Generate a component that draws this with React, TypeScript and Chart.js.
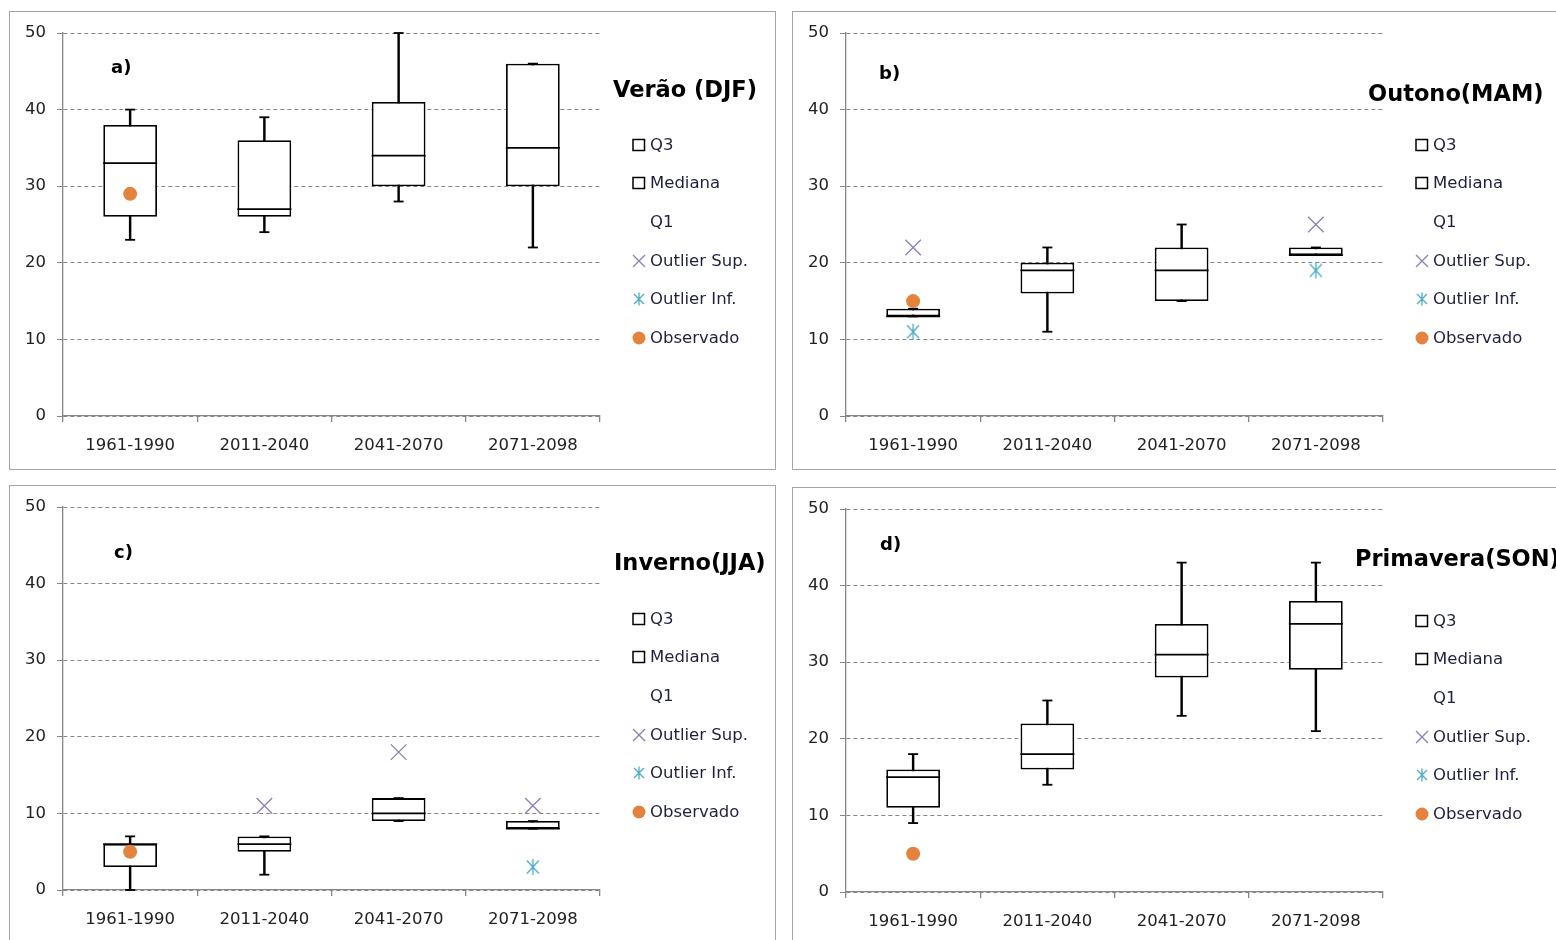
import React, { useEffect, useRef } from 'react';
import { Chart, registerables } from 'chart.js';
Chart.register(...registerables);

const categories = ['1961-1990', '2011-2040', '2041-2070', '2071-2098'];
const yTicks = [0, 10, 20, 30, 40, 50];
const legendLabels = ['Q3', 'Mediana', 'Q1', 'Outlier Sup.', 'Outlier Inf.', 'Observado'];

// a) Verão (DJF)
const djfMin = [23, 24, 28, 22];
const djfQ1 = [26, 26, 30, 30];
const djfMed = [33, 27, 34, 35];
const djfQ3 = [38, 36, 41, 46];
const djfMax = [40, 39, 50, 46];
const djfOutSup = [null, null, null, null];
const djfOutInf = [null, null, null, null];
const djfObs = [29, null, null, null];

// b) Outono (MAM)
const mamMin = [13, 11, 15, 21];
const mamQ1 = [13, 16, 15, 21];
const mamMed = [13, 19, 19, 21];
const mamQ3 = [14, 20, 22, 22];
const mamMax = [14, 22, 25, 22];
const mamOutSup = [22, null, null, 25];
const mamOutInf = [11, null, null, 19];
const mamObs = [15, null, null, null];

// c) Inverno (JJA)
const jjaMin = [0, 2, 9, 8];
const jjaQ1 = [3, 5, 9, 8];
const jjaMed = [6, 6, 10, 8];
const jjaQ3 = [6, 7, 12, 9];
const jjaMax = [7, 7, 12, 9];
const jjaOutSup = [null, 11, 18, 11];
const jjaOutInf = [null, null, null, 3];
const jjaObs = [5, null, null, null];

// d) Primavera (SON)
const sonMin = [9, 14, 23, 21];
const sonQ1 = [11, 16, 28, 29];
const sonMed = [15, 18, 31, 35];
const sonQ3 = [16, 22, 35, 38];
const sonMax = [18, 25, 43, 43];
const sonOutSup = [null, null, null, null];
const sonOutInf = [null, null, null, null];
const sonObs = [5, null, null, null];

const PURPLE = '#8e7cb8';
const TEAL = '#4bacc6';
const ORANGE = '#e3833e';
const GREY = '#868686';
const FONT = '"DejaVu Sans", sans-serif';
const LW = 1.8;

function makeAsterisk(color: string): HTMLCanvasElement {
  const c = document.createElement('canvas');
  c.width = 18;
  c.height = 18;
  const g = c.getContext('2d')!;
  g.strokeStyle = color;
  g.lineWidth = 1.3;
  g.beginPath();
  g.moveTo(9, 1);
  g.lineTo(9, 17);
  g.moveTo(3, 2.5);
  g.lineTo(15, 15.5);
  g.moveTo(15, 2.5);
  g.lineTo(3, 15.5);
  g.stroke();
  return c;
}

type Arr = (number | null)[];
interface PanelProps {
  left: number;
  top: number;
  min: Arr; q1: Arr; med: Arr; q3: Arr; max: Arr;
  outSup: Arr; outInf: Arr; obs: Arr;
  title: string; titleX: number; titleY: number;
  label: string; labelX: number; labelY: number;
}

const W = 767;
const H = 459;

function Marker({ kind }: { kind: number }) {
  if (kind === 0 || kind === 1) {
    return (
      <svg width={14} height={14} style={{ display: 'block' }}>
        <rect x={1} y={1.5} width={11.5} height={11} fill="#fff" stroke="#000" strokeWidth={1.5} />
      </svg>
    );
  }
  if (kind === 2) return <svg width={14} height={14} style={{ display: 'block' }} />;
  if (kind === 3) {
    return (
      <svg width={14} height={14} style={{ display: 'block' }}>
        <path d="M1 1 L13 13 M13 1 L1 13" stroke={PURPLE} strokeWidth={1.3} />
      </svg>
    );
  }
  if (kind === 4) {
    return (
      <svg width={14} height={14} style={{ display: 'block' }}>
        <path d="M7 0.5 L7 13.5 M2 2 L12 12 M12 2 L2 12" stroke={TEAL} strokeWidth={1.3} />
      </svg>
    );
  }
  return (
    <svg width={14} height={14} style={{ display: 'block' }}>
      <circle cx={7} cy={7} r={6.5} fill={ORANGE} />
    </svg>
  );
}

function Panel(p: PanelProps) {
  const ref = useRef<HTMLCanvasElement>(null);
  useEffect(() => {
    const canvas = ref.current!;
    const chart = new Chart(canvas, {
      type: 'bar',
      data: {
        labels: categories,
        datasets: [
          {
            type: 'bar', label: 'whisker',
            data: p.min.map((v, i) => [v as number, p.max[i] as number]),
            backgroundColor: '#000', borderWidth: 0, barThickness: LW,
            grouped: false, order: 6,
          } as any,
          {
            type: 'bar', label: 'box',
            data: p.q1.map((v, i) => [v as number, p.q3[i] as number]),
            backgroundColor: '#fff', borderColor: '#000', borderWidth: LW,
            borderSkipped: false, barPercentage: 0.4, categoryPercentage: 1,
            grouped: false, order: 5,
          } as any,
          {
            type: 'line', label: 'Mediana', data: p.med, showLine: false,
            pointStyle: 'line', pointRadius: 27, pointBorderColor: '#000',
            pointBorderWidth: LW, order: 4, clip: false,
          } as any,
          {
            type: 'line', label: 'max', data: p.max, showLine: false,
            pointStyle: 'line', pointRadius: 5, pointBorderColor: '#000',
            pointBorderWidth: LW, order: 3, clip: false,
          } as any,
          {
            type: 'line', label: 'min', data: p.min, showLine: false,
            pointStyle: 'line', pointRadius: 5, pointBorderColor: '#000',
            pointBorderWidth: LW, order: 3, clip: false,
          } as any,
          {
            type: 'line', label: 'Outlier Sup.', data: p.outSup, showLine: false,
            pointStyle: 'crossRot', pointRadius: 11, pointBorderColor: PURPLE,
            pointBorderWidth: 1.3, order: 2, clip: false,
          } as any,
          {
            type: 'line', label: 'Outlier Inf.', data: p.outInf, showLine: false,
            pointStyle: makeAsterisk(TEAL), pointRadius: 9, order: 1, clip: false,
          } as any,
          {
            type: 'line', label: 'Observado', data: p.obs, showLine: false,
            pointStyle: 'circle', pointRadius: 7, pointBackgroundColor: ORANGE,
            pointBorderColor: ORANGE, pointBorderWidth: 0, order: 0, clip: false,
          } as any,
        ],
      },
      options: {
        animation: false,
        responsive: false,
        maintainAspectRatio: false,
        layout: { autoPadding: false, padding: { left: 0, right: 176, top: 22, bottom: 0 } },
        plugins: { legend: { display: false }, tooltip: { enabled: false } },
        scales: {
          x: {
            type: 'category',
            offset: true,
            grid: {
              display: true, drawOnChartArea: false, drawTicks: true,
              tickLength: 6, color: GREY, lineWidth: 1.3, offset: true,
            },
            border: { display: true, color: GREY, width: 1.3 },
            ticks: {
              font: { family: FONT, size: 16.5 }, color: '#222',
              padding: 14, maxRotation: 0, autoSkip: false,
            },
            afterFit: (s: any) => { s.height = 54; },
          },
          y: {
            type: 'linear',
            min: yTicks[0],
            max: yTicks[yTicks.length - 1],
            afterBuildTicks: (s: any) => { s.ticks = yTicks.map((v) => ({ value: v })); },
            ticks: { font: { family: FONT, size: 16.5 }, color: '#222', padding: 11 },
            grid: { color: GREY, lineWidth: 1, tickLength: 6, drawTicks: true },
            border: { display: true, color: GREY, width: 1.3, dash: [4, 3] },
            afterFit: (s: any) => { s.width = 54; },
          },
        },
      } as any,
    });
    return () => chart.destroy();
  }, []);

  const rows = [133, 171, 210, 249, 287, 326];
  return (
    <div
      style={{
        position: 'fixed', left: p.left, top: p.top, width: W, height: H,
        boxSizing: 'border-box', border: '1.5px solid #a6a6a6', background: '#fff',
      }}
    >
      <canvas ref={ref} width={W} height={H} style={{ position: 'absolute', left: -1.5, top: -1.5 }} />
      <div
        style={{
          position: 'absolute', left: p.labelX, top: p.labelY, transform: 'translateY(-50%)',
          font: `bold 18px ${FONT}`, color: '#000', whiteSpace: 'nowrap',
        }}
      >
        {p.label}
      </div>
      <div
        style={{
          position: 'absolute', left: p.titleX, top: p.titleY, transform: 'translateY(-50%)',
          font: `bold 22.5px ${FONT}`, color: '#000', whiteSpace: 'nowrap',
        }}
      >
        {p.title}
      </div>
      {legendLabels.map((t, i) => (
        <div
          key={t}
          style={{
            position: 'absolute', left: 622, top: rows[i], transform: 'translateY(-50%)',
            display: 'flex', alignItems: 'center', whiteSpace: 'nowrap',
          }}
        >
          <div style={{ width: 14, marginRight: 4 }}>
            <Marker kind={i} />
          </div>
          <span style={{ font: `16.5px ${FONT}`, color: '#1f2040', lineHeight: '20px' }}>{t}</span>
        </div>
      ))}
    </div>
  );
}

export default function App() {
  useEffect(() => {
    document.body.style.overflow = 'hidden';
  }, []);
  return (
    <div>
      <Panel left={9} top={11} min={djfMin} q1={djfQ1} med={djfMed} q3={djfQ3} max={djfMax}
        outSup={djfOutSup} outInf={djfOutInf} obs={djfObs}
        title="Verão (DJF)" titleX={603} titleY={77} label="a)" labelX={101} labelY={54} />
      <Panel left={792} top={11} min={mamMin} q1={mamQ1} med={mamMed} q3={mamQ3} max={mamMax}
        outSup={mamOutSup} outInf={mamOutInf} obs={mamObs}
        title="Outono(MAM)" titleX={575} titleY={81} label="b)" labelX={86} labelY={60} />
      <Panel left={9} top={485} min={jjaMin} q1={jjaQ1} med={jjaMed} q3={jjaQ3} max={jjaMax}
        outSup={jjaOutSup} outInf={jjaOutInf} obs={jjaObs}
        title="Inverno(JJA)" titleX={604} titleY={76} label="c)" labelX={104} labelY={65} />
      <Panel left={792} top={487} min={sonMin} q1={sonQ1} med={sonMed} q3={sonQ3} max={sonMax}
        outSup={sonOutSup} outInf={sonOutInf} obs={sonObs}
        title="Primavera(SON)" titleX={562} titleY={70} label="d)" labelX={87} labelY={55} />
    </div>
  );
}
